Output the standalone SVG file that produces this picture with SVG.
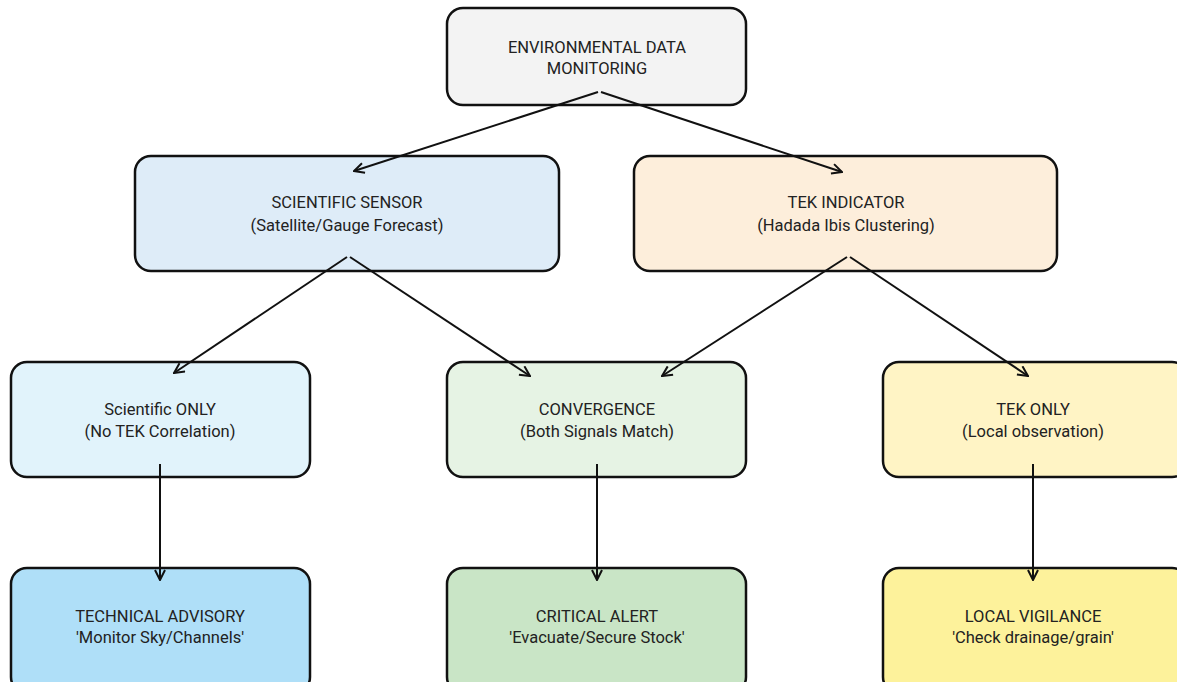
<svg xmlns="http://www.w3.org/2000/svg" width="1177" height="682" viewBox="0 0 1177 682">
<style>
.box{stroke:#111;stroke-width:2.5}
.t{font-family:Roboto,"Open Sans",sans-serif;font-size:16.5px;fill:#222;text-anchor:middle}
.c{stroke:#111;stroke-width:2;fill:none;marker-end:url(#ah)}
</style>
<defs>
<marker id="ah" viewBox="0 0 12 12" refX="11" refY="6" markerWidth="12" markerHeight="12" markerUnits="userSpaceOnUse" orient="auto">
<path d="M1,1 L11,6 L1,11" fill="none" stroke="#111" stroke-width="2"/>
</marker>
</defs>
<rect width="1177" height="682" fill="#fff"/>
<g id="n_env">
<rect class="box" x="447" y="8" width="299" height="97" rx="16" fill="#f3f3f3"/>
<text class="t" x="597" y="53">ENVIRONMENTAL DATA</text>
<text class="t" x="597" y="74">MONITORING</text>
</g>
<g id="n_sci">
<rect class="box" x="135" y="156" width="424" height="115" rx="16" fill="#deecf8"/>
<text class="t" x="347" y="208">SCIENTIFIC SENSOR</text>
<text class="t" x="347" y="231">(Satellite/Gauge Forecast)</text>
</g>
<g id="n_tek">
<rect class="box" x="634" y="156" width="423" height="115" rx="16" fill="#fdeedb"/>
<text class="t" x="846" y="208">TEK INDICATOR</text>
<text class="t" x="846" y="231">(Hadada Ibis Clustering)</text>
</g>
<g id="n_sonly">
<rect class="box" x="11" y="362" width="299" height="115" rx="16" fill="#e1f3fb"/>
<text class="t" x="160" y="415">Scientific ONLY</text>
<text class="t" x="160" y="437">(No TEK Correlation)</text>
</g>
<g id="n_conv">
<rect class="box" x="447" y="362" width="299" height="115" rx="16" fill="#e6f3e4"/>
<text class="t" x="597" y="415">CONVERGENCE</text>
<text class="t" x="597" y="437">(Both Signals Match)</text>
</g>
<g id="n_tonly">
<rect class="box" x="883" y="362" width="305" height="115" rx="16" fill="#fff4c5"/>
<text class="t" x="1033" y="415">TEK ONLY</text>
<text class="t" x="1033" y="437">(Local observation)</text>
</g>
<g id="n_tech">
<rect class="box" x="11" y="568" width="299" height="125" rx="16" fill="#afdff8"/>
<text class="t" x="160" y="622">TECHNICAL ADVISORY</text>
<text class="t" x="160" y="643">'Monitor Sky/Channels'</text>
</g>
<g id="n_crit">
<rect class="box" x="447" y="568" width="299" height="125" rx="16" fill="#c9e5c6"/>
<text class="t" x="597" y="622">CRITICAL ALERT</text>
<text class="t" x="597" y="643">'Evacuate/Secure Stock'</text>
</g>
<g id="n_local">
<rect class="box" x="883" y="568" width="305" height="125" rx="16" fill="#fdf29b"/>
<text class="t" x="1033" y="622">LOCAL VIGILANCE</text>
<text class="t" x="1033" y="643">'Check drainage/grain'</text>
</g>
<g id="connectors">
<line class="c" x1="598" y1="92" x2="354" y2="171"/>
<line class="c" x1="601" y1="92" x2="842" y2="172"/>
<line class="c" x1="347" y1="257" x2="174" y2="373"/>
<line class="c" x1="350" y1="257" x2="530" y2="376"/>
<line class="c" x1="847" y1="257" x2="662" y2="376"/>
<line class="c" x1="850" y1="257" x2="1028" y2="376"/>
<line class="c" x1="160" y1="464" x2="160" y2="580"/>
<line class="c" x1="597" y1="464" x2="597" y2="580"/>
<line class="c" x1="1033" y1="464" x2="1033" y2="580"/>
</g>
</svg>
